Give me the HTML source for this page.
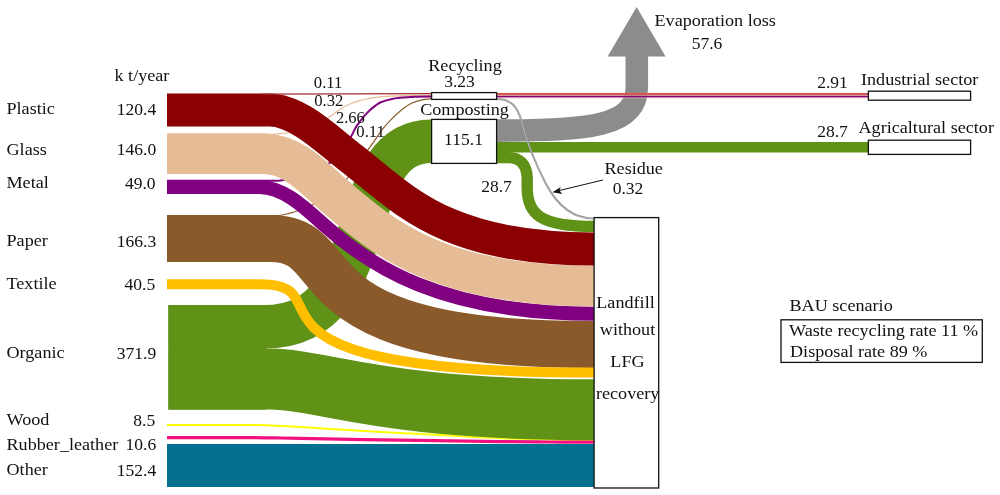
<!DOCTYPE html>
<html><head><meta charset="utf-8"><title>Sankey</title>
<style>
html,body{margin:0;padding:0;background:#fff;}
svg{display:block}
text{font-family:"Liberation Serif",serif;fill:#111;}
</style></head><body>
<svg width="1000" height="495" viewBox="0 0 1000 495">
<rect width="1000" height="495" fill="#fff"/>
<rect x="168.4" y="305" width="98" height="104.6" fill="#5f9216"/>
<path d="M168.4,326.8 H264.2 C386.9,326.8 339.1,141.2 431.6,141.2" fill="none" stroke="#5f9216" stroke-width="43.6" />
<path d="M167,425 C175.0,425.0 201.2,425.0 215,425 C228.8,425.0 241.2,424.9 250,425 C258.8,425.1 260.5,425.0 268,425.3 C275.5,425.6 284.7,426.2 295,426.8 C305.3,427.4 314.2,428.1 330,429 C345.8,429.9 370.0,431.3 390,432.4 C410.0,433.5 431.7,434.6 450,435.6 C468.3,436.6 483.3,437.5 500,438.2 C516.7,438.9 534.3,439.3 550,439.6 C565.7,439.9 586.7,440.1 594,440.2" fill="none" stroke="#ffff00" stroke-width="2.0" />
<path d="M168.4,379.1 H270.3 C322.7,379.1 377.2,409.8 594,409.8" fill="none" stroke="#5f9216" stroke-width="61" />
<path d="M167,134.2 C175.0,134.2 199.2,134.2 215,134.2 C230.8,134.2 251.8,134.2 262,134.2 C272.2,134.2 269.7,134.5 276,134 C282.3,133.5 293.0,132.7 300,131 C307.0,129.3 313.1,126.3 318,124 C322.9,121.7 325.6,119.5 329.3,117 C333.0,114.5 336.9,111.1 340.4,108.9 C343.9,106.7 347.1,105.2 350.5,103.8 C353.9,102.4 357.2,101.2 360.6,100.3 C364.0,99.3 367.3,98.7 370.7,98.1 C374.1,97.5 377.4,97.1 380.8,96.8 C384.2,96.5 386.0,96.3 390.9,96.1 C395.8,95.9 403.2,95.7 410,95.6 C416.8,95.5 428.0,95.4 431.6,95.4" fill="none" stroke="#e6bc96" stroke-width="1.2" />
<path d="M167,180.8 C175.8,180.8 202.8,180.8 220,180.8 C237.2,180.8 259.7,180.9 270,180.8 C280.3,180.7 277.0,180.9 282,180.3 C287.0,179.7 294.5,178.6 300,177 C305.5,175.4 310.0,173.4 315,171 C320.0,168.6 325.5,166.1 330,162.6 C334.5,159.1 338.5,154.4 342,150 C345.5,145.6 349.0,139.9 351.2,136.3 C353.4,132.7 353.8,130.8 355.3,128.2 C356.8,125.6 358.6,123.3 360.3,121 C362.0,118.7 364.0,116.3 365.7,114.4 C367.4,112.5 369.0,110.9 370.7,109.4 C372.4,107.9 374.1,106.6 375.8,105.4 C377.5,104.2 378.3,103.3 380.8,102.3 C383.3,101.3 387.7,100.0 390.9,99.3 C394.1,98.5 396.0,98.2 400,97.8 C404.0,97.4 409.7,97.0 415,96.8 C420.3,96.6 428.8,96.5 431.6,96.5" fill="none" stroke="#800080" stroke-width="2" />
<path d="M167,215.6 C175.8,215.6 202.8,215.6 220,215.6 C237.2,215.6 259.7,215.7 270,215.6 C280.3,215.5 277.0,215.9 282,215 C287.0,214.1 295.0,211.7 300,210 C305.0,208.3 307.0,207.5 312,205 C317.0,202.5 324.5,199.0 330,195 C335.5,191.0 340.3,186.3 345,181 C349.7,175.7 354.2,168.2 358,163 C361.8,157.8 365.0,153.8 367.9,149.9 C370.8,146.0 373.1,142.8 375.5,139.3 C377.9,135.9 380.0,132.4 382.5,129.2 C385.0,126.0 387.2,123.5 390.6,120.1 C394.0,116.7 399.1,111.8 402.7,109 C406.3,106.2 408.8,104.5 412,103 C415.2,101.5 418.7,100.5 422,99.8 C425.3,99.1 430.0,98.9 431.6,98.7" fill="none" stroke="#8b5a2b" stroke-width="1.2" />
<path d="M167,238.5 H270.3 C352.6,238.5 280.20000000000005,344.5 589.1,344.5 H594" fill="none" stroke="#8b5a2b" stroke-width="47" />
<path d="M167,186.9 H259.5 C283.8,186.9 305.6,208.4 324.1,225.0 C368.2,264.6 439.6,313.8 594,313.8" fill="none" stroke="#800080" stroke-width="14" />
<path d="M167,153.8 H263.1 C293.7,153.8 314.3,178.4 333.0,194.5 C380.8,235.6 436.4,286.1 594,286.1" fill="none" stroke="#e6bc96" stroke-width="40.6" />
<path d="M167,110 H269.4 C298.2,110 329.5,141.8 348.6,156.2 C400.5,195.2 439.4,249 594,249" fill="none" stroke="#8b0000" stroke-width="33.2" />
<path d="M262,94.2 L431.6,93.6" fill="none" stroke="#a62b2b" stroke-width="1.2" />
<path d="M167,284.2 H260.2 C350.6,284.2 204,372.6 594,372.6" fill="none" stroke="#ffbf00" stroke-width="10" />
<path d="M167,437.6 C175.0,437.6 201.2,437.6 215,437.6 C228.8,437.6 240.0,437.6 250,437.6 C260.0,437.7 266.7,437.8 275,437.9 C283.3,438.0 279.2,438.0 300,438.4 C320.8,438.8 366.7,439.7 400,440.2 C433.3,440.7 475.0,441.3 500,441.6 C525.0,441.9 534.3,441.9 550,442 C565.7,442.1 586.7,442.1 594,442.1" fill="none" stroke="#f0107f" stroke-width="3.2" />
<path d="M167,465.5 H594" fill="none" stroke="#05708f" stroke-width="43" />
<path d="M496.5,157.6 H509 C520,157.6 526.8,165 527.2,178 V188 C527.3,214 540,226.4 594,226.4" fill="none" stroke="#5f9216" stroke-width="11.4" />
<path d="M496.5,147.2 H868.4" fill="none" stroke="#5f9216" stroke-width="10.4" />
<path d="M496.5,130.6 C590,130.6 636.8,126.5 636.8,87 V56" fill="none" stroke="#8c8c8c" stroke-width="22.6" />
<path d="M607.6,56.6 L636.6,7 L665.6,56.6 Z" fill="#8c8c8c"/>
<path d="M496.6,99 C510,99 517,105 521.5,121 C527,143 535,163 546,184 C556,203 570,218.6 594,218.6" fill="none" stroke="#8a8a8a" stroke-width="1.9" />
<path d="M496.6,99 C510,99 517,105 521.5,121 C527,143 535,163 546,184 C556,203 570,218.6 594,218.6" fill="none" stroke="#ffffff" stroke-width="0.6" stroke-opacity="0.6"/>
<path d="M496.5,94.1 H868.4" fill="none" stroke="#d9544a" stroke-width="2.3" />
<path d="M496.5,95.5 H868.4" fill="none" stroke="#ecc7a6" stroke-width="0.7" />
<path d="M496.5,96.7 H868.4" fill="none" stroke="#800080" stroke-width="1.8" />
<path d="M496.5,97.9 H868.4" fill="none" stroke="#e6bc96" stroke-width="0.7" />
<rect x="431.6" y="92.6" width="65.0" height="6.800000000000011" fill="#fff" stroke="#111" stroke-width="1.3"/>
<rect x="431.6" y="119.4" width="65.0" height="44.0" fill="#fff" stroke="#111" stroke-width="1.3"/>
<rect x="594.1" y="217.6" width="64.60000000000002" height="270.4" fill="#fff" stroke="#111" stroke-width="1.3"/>
<rect x="868.4" y="91.2" width="102.20000000000005" height="9.0" fill="#fff" stroke="#111" stroke-width="1.3"/>
<rect x="868.4" y="140.2" width="102.20000000000005" height="14.200000000000017" fill="#fff" stroke="#111" stroke-width="1.3"/>
<rect x="781" y="319.8" width="201.29999999999995" height="42.599999999999966" fill="#fff" stroke="#111" stroke-width="1.3"/>
<path d="M603,180 L556,191.3" stroke="#111" stroke-width="1" fill="none"/>
<path d="M552.4,192.2 L560.8,187 L559.4,190.6 L562.2,194 Z" fill="#111"/>
<text transform="translate(6.5 114.3) scale(1.037 1)" style="font-size:17.5px" text-anchor="start">Plastic</text>
<text transform="translate(156.2 114.6) scale(1.02 1)" style="font-size:17.2px" text-anchor="end">120.4</text>
<text transform="translate(6.5 154.7) scale(1.037 1)" style="font-size:17.5px" text-anchor="start">Glass</text>
<text transform="translate(156.2 155.0) scale(1.02 1)" style="font-size:17.2px" text-anchor="end">146.0</text>
<text transform="translate(6.5 187.9) scale(1.037 1)" style="font-size:17.5px" text-anchor="start">Metal</text>
<text transform="translate(155.6 188.6) scale(1.02 1)" style="font-size:17.2px" text-anchor="end">49.0</text>
<text transform="translate(6.5 245.9) scale(1.037 1)" style="font-size:17.5px" text-anchor="start">Paper</text>
<text transform="translate(156.2 246.6) scale(1.02 1)" style="font-size:17.2px" text-anchor="end">166.3</text>
<text transform="translate(6.5 288.9) scale(1.037 1)" style="font-size:17.5px" text-anchor="start">Textile</text>
<text transform="translate(155.2 289.6) scale(1.02 1)" style="font-size:17.2px" text-anchor="end">40.5</text>
<text transform="translate(6.5 357.9) scale(1.037 1)" style="font-size:17.5px" text-anchor="start">Organic</text>
<text transform="translate(156.2 358.6) scale(1.02 1)" style="font-size:17.2px" text-anchor="end">371.9</text>
<text transform="translate(6.5 424.9) scale(1.037 1)" style="font-size:17.5px" text-anchor="start">Wood</text>
<text transform="translate(155.2 425.6) scale(1.02 1)" style="font-size:17.2px" text-anchor="end">8.5</text>
<text transform="translate(6.5 449.9) scale(1.037 1)" style="font-size:17.5px" text-anchor="start">Rubber_leather</text>
<text transform="translate(156.2 450.2) scale(1.02 1)" style="font-size:17.2px" text-anchor="end">10.6</text>
<text transform="translate(6.5 475.3) scale(1.037 1)" style="font-size:17.5px" text-anchor="start">Other</text>
<text transform="translate(156.2 475.8) scale(1.02 1)" style="font-size:17.2px" text-anchor="end">152.4</text>
<text transform="translate(114.5 81.1) scale(1.037 1)" style="font-size:17.5px" text-anchor="start">k t/year</text>
<text transform="translate(313.8 87.7) scale(0.97 1)" style="font-size:17.2px" text-anchor="start">0.11</text>
<text transform="translate(314.2 105.7) scale(0.97 1)" style="font-size:17.2px" text-anchor="start">0.32</text>
<text transform="translate(336 123.1) scale(0.96 1)" style="font-size:17.2px" text-anchor="start">2.66</text>
<text transform="translate(356.3 137.1) scale(0.97 1)" style="font-size:17.2px" text-anchor="start">0.11</text>
<text transform="translate(465 71.1) scale(1.037 1)" style="font-size:17.5px" text-anchor="middle">Recycling</text>
<text transform="translate(459.5 87.1) scale(1.02 1)" style="font-size:17.2px" text-anchor="middle">3.23</text>
<text transform="translate(464.5 115.1) scale(1.037 1)" style="font-size:17.5px" text-anchor="middle">Composting</text>
<text transform="translate(463.5 144.9) scale(1.02 1)" style="font-size:17.2px" text-anchor="middle">115.1</text>
<text transform="translate(654.5 25.7) scale(1.037 1)" style="font-size:17.5px" text-anchor="start">Evaporation loss</text>
<text transform="translate(707 49.1) scale(1.02 1)" style="font-size:17.2px" text-anchor="middle">57.6</text>
<text transform="translate(832.5 87.7) scale(1.02 1)" style="font-size:17.2px" text-anchor="middle">2.91</text>
<text transform="translate(861 84.7) scale(1.037 1)" style="font-size:17.5px" text-anchor="start">Industrial sector</text>
<text transform="translate(832.5 137.1) scale(1.02 1)" style="font-size:17.2px" text-anchor="middle">28.7</text>
<text transform="translate(858.5 133.1) scale(1.037 1)" style="font-size:17.5px" text-anchor="start">Agricaltural sector</text>
<text transform="translate(604.5 174.1) scale(1.037 1)" style="font-size:17.5px" text-anchor="start">Residue</text>
<text transform="translate(628 194.1) scale(1.02 1)" style="font-size:17.2px" text-anchor="middle">0.32</text>
<text transform="translate(496.5 192.1) scale(1.02 1)" style="font-size:17.2px" text-anchor="middle">28.7</text>
<text transform="translate(625.5 307.5) scale(1.037 1)" style="font-size:17.5px" text-anchor="middle">Landfill</text>
<text transform="translate(627.5 334.9) scale(1.037 1)" style="font-size:17.5px" text-anchor="middle">without</text>
<text transform="translate(627.5 366.7) scale(1.037 1)" style="font-size:17.5px" text-anchor="middle">LFG</text>
<text transform="translate(627.7 398.9) scale(1.037 1)" style="font-size:17.5px" text-anchor="middle">recovery</text>
<text transform="translate(789.5 310.5) scale(1.037 1)" style="font-size:17.5px" text-anchor="start">BAU scenario</text>
<text transform="translate(789 336.1) scale(1.037 1)" style="font-size:17.5px" text-anchor="start">Waste recycling rate 11 %</text>
<text transform="translate(790 356.5) scale(1.037 1)" style="font-size:17.5px" text-anchor="start">Disposal rate 89 %</text>
</svg>
</body></html>
